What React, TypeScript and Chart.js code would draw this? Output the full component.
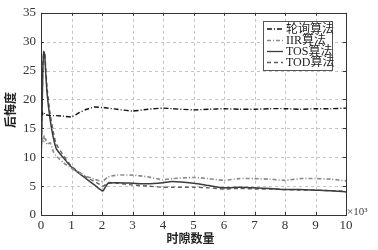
import React, { useEffect, useRef } from "react";
import { Chart, registerables } from "chart.js";

Chart.register(...registerables);

const xs = [0, 0.03, 0.06, 0.09, 0.12, 0.15, 0.2, 0.3, 0.4, 0.5, 0.75, 1, 1.25, 1.5, 1.75, 2, 2.05, 2.2, 2.5, 3, 3.5, 4, 4.3, 5, 5.5, 6, 6.5, 7, 7.5, 8, 8.5, 9, 9.5, 10];

const polling = [17.5, 17.8, 17.3, 17.6, 17.4, 17.3, 17.3, 17.2, 17.2, 17.2, 17.1, 17.0, 17.7, 18.3, 18.7, 18.6, 18.6, 18.5, 18.3, 18.0, 18.3, 18.5, 18.4, 18.2, 18.3, 18.4, 18.3, 18.3, 18.4, 18.4, 18.3, 18.4, 18.4, 18.5];
const iir = [9, 13.5, 12.8, 13.8, 12.6, 13.2, 12.2, 12.5, 11, 10.2, 9, 8.1, 7.3, 6.7, 6.2, 5.8, 5.9, 6.6, 6.9, 6.9, 6.6, 6.1, 6.3, 6.5, 6.3, 6.0, 6.3, 6.3, 6.2, 6.0, 6.3, 6.3, 6.2, 5.9];
const tos = [9, 16, 25, 28.3, 27.8, 25, 21, 16.5, 13.5, 11.5, 9.8, 8.3, 7.2, 6.2, 5.2, 4.2, 4.3, 5.5, 5.6, 5.5, 5.4, 5.6, 5.8, 5.5, 5.1, 4.7, 4.8, 4.7, 4.6, 4.4, 4.4, 4.3, 4.2, 4.0];
const tod = [9, 17, 26, 28, 28, 26, 22, 17.5, 14.5, 12.3, 10.2, 8.4, 7.4, 6.5, 5.8, 5.1, 5.0, 5.6, 5.5, 5.2, 5.0, 4.8, 4.8, 4.8, 4.7, 4.5, 4.6, 4.5, 4.5, 4.4, 4.3, 4.3, 4.2, 4.1];

const seriesLabels = ["轮询算法", "IIR算法", "TOS算法", "TOD算法"];
const xTitle = "时隙数量";
const yTitle = "后悔度";
const xExponent = "×10³";

const serif = "'Liberation Serif', 'Times New Roman', serif";
const cjk = "'Liberation Serif', 'Noto Sans CJK SC', serif";

const gridPlugin = {
  id: "dashgrid",
  beforeDatasetsDraw(chart: any) {
    const { ctx, chartArea: a, scales } = chart;
    ctx.save();
    ctx.strokeStyle = "#c4c4c4";
    ctx.lineWidth = 1;
    ctx.setLineDash([3, 3]);
    scales.x.ticks.forEach((t: any) => {
      const px = Math.round(scales.x.getPixelForValue(t.value)) + 0.5;
      ctx.beginPath(); ctx.moveTo(px, a.top); ctx.lineTo(px, a.bottom); ctx.stroke();
    });
    scales.y.ticks.forEach((t: any) => {
      const py = Math.round(scales.y.getPixelForValue(t.value)) + 0.5;
      ctx.beginPath(); ctx.moveTo(a.left, py); ctx.lineTo(a.right, py); ctx.stroke();
    });
    ctx.restore();
  },
};

const frame = {
  id: "frame",
  afterDraw(chart: any) {
    const { ctx, chartArea: a, scales } = chart;
    ctx.save();
    ctx.strokeStyle = "#333";
    ctx.lineWidth = 1;
    ctx.setLineDash([]);
    ctx.strokeRect(Math.round(a.left) + 0.5, Math.round(a.top) + 0.5, Math.round(a.right - a.left), Math.round(a.bottom - a.top));
    const tl = 3;
    scales.x.ticks.forEach((t: any) => {
      const px = Math.round(scales.x.getPixelForValue(t.value)) + 0.5;
      ctx.beginPath();
      ctx.moveTo(px, a.bottom); ctx.lineTo(px, a.bottom - tl);
      ctx.moveTo(px, a.top); ctx.lineTo(px, a.top + tl);
      ctx.stroke();
    });
    scales.y.ticks.forEach((t: any) => {
      const py = Math.round(scales.y.getPixelForValue(t.value)) + 0.5;
      ctx.beginPath();
      ctx.moveTo(a.left, py); ctx.lineTo(a.left + tl, py);
      ctx.moveTo(a.right, py); ctx.lineTo(a.right - tl, py);
      ctx.stroke();
    });
    ctx.fillStyle = "#222";
    ctx.font = "bold 12px " + cjk;
    ctx.textAlign = "center";
    ctx.textBaseline = "middle";
    ctx.fillText(xTitle, (a.left + a.right) / 2 - 3, 240);
    ctx.save();
    ctx.translate(12, 110);
    ctx.rotate(-Math.PI / 2);
    ctx.fillText(yTitle, 0, 0);
    ctx.restore();
    ctx.font = "11px " + serif;
    ctx.textAlign = "left";
    ctx.fillStyle = "#444";
    ctx.fillText(xExponent, a.right + 1, 212);
    const lx = 263, ly = 21, lw = 69, lh = 49;
    ctx.fillStyle = "#fff";
    ctx.fillRect(lx, ly, lw, lh);
    ctx.strokeStyle = "#555";
    ctx.strokeRect(lx + 0.5, ly + 0.5, lw, lh);
    const rows = [29, 40.5, 51.5, 62.5];
    chart.data.datasets.forEach((ds: any, i: number) => {
      ctx.strokeStyle = ds.borderColor;
      ctx.lineWidth = 1.3;
      ctx.setLineDash(ds.borderDash || []);
      ctx.beginPath();
      ctx.moveTo(lx + 4, rows[i]);
      ctx.lineTo(lx + 20, rows[i]);
      ctx.stroke();
      ctx.setLineDash([]);
      ctx.fillStyle = "#222";
      ctx.font = "12px " + cjk;
      ctx.textAlign = "left";
      ctx.fillText(ds.label, lx + 23, rows[i] + 0.5);
    });
    ctx.restore();
  },
};

function mk(vals: number[]) {
  return xs.map((x, i) => ({ x, y: vals[i] }));
}

export default function App() {
  const ref = useRef<HTMLCanvasElement>(null);
  useEffect(() => {
    if (!ref.current) return;
    const chart = new Chart(ref.current, {
      type: "line",
      data: {
        datasets: [
          { label: seriesLabels[0], data: mk(polling), borderColor: "#111", borderWidth: 1.4, borderDash: [5, 2, 1, 2], pointRadius: 0, tension: 0.2 },
          { label: seriesLabels[1], data: mk(iir), borderColor: "#8a8a8a", borderWidth: 1.6, borderDash: [4, 2, 1, 2], pointRadius: 0, tension: 0.2 },
          { label: seriesLabels[2], data: mk(tos), borderColor: "#3c3c3c", borderWidth: 1.5, pointRadius: 0, tension: 0.2 },
          { label: seriesLabels[3], data: mk(tod), borderColor: "#606060", borderWidth: 1.4, borderDash: [4, 3], pointRadius: 0, tension: 0.2 },
        ],
      },
      options: {
        animation: false,
        responsive: false,
        layout: { padding: { top: 10, right: 32, left: 0, bottom: 0 } },
        plugins: { legend: { display: false }, tooltip: { enabled: false } },
        scales: {
          x: {
            type: "linear",
            min: 0,
            max: 10,
            afterFit: (s: any) => { s.height = 35; },
            ticks: { stepSize: 1, padding: 3, color: "#333", font: { family: serif, size: 13 } },
            grid: { display: false, drawTicks: false },
            border: { display: false },
          },
          y: {
            min: 0,
            max: 35,
            afterFit: (s: any) => { s.width = 41; },
            ticks: { stepSize: 5, padding: 5, color: "#333", font: { family: serif, size: 13 } },
            grid: { display: false, drawTicks: false },
            border: { display: false },
          },
        },
      },
      plugins: [gridPlugin, frame],
    });
    return () => chart.destroy();
  }, []);
  return (
    <div style={{ position: "fixed", left: 0, top: 0, width: 378, height: 250, background: "#fff" }}>
      <canvas ref={ref} width={378} height={250} />
    </div>
  );
}
